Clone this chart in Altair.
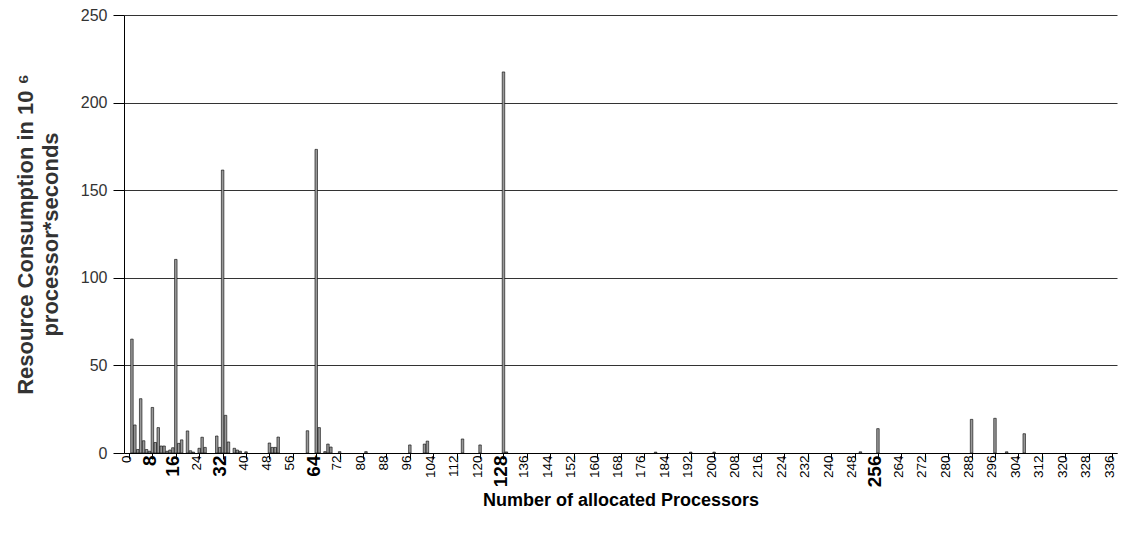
import altair as alt
import pandas as pd

processors = [1, 2, 3, 4, 5, 6, 7, 8, 9, 10, 11, 12, 13, 14, 15, 16, 17, 18, 20, 21, 22,
              24, 25, 26, 30, 31, 32, 33, 34, 36, 37, 38, 40,
              48, 49, 50, 51, 61, 64, 65, 67, 68, 69, 72, 81,
              96, 101, 102, 114, 120, 128, 129, 180, 192, 200, 250, 256,
              288, 296, 300, 306]
consumption = [65, 16, 2, 31, 7, 2, 1, 26, 6, 14.5, 4, 4, 1, 1.7, 3, 110.5, 5.5, 7.5, 12.6, 1.3, 0.5,
               2.7, 9, 3.2, 9.7, 3.2, 161.5, 21.5, 6.3, 2.7, 1.7, 1, 0.7,
               5.7, 3.2, 3.2, 9.1, 12.7, 173.3, 14.5, 0.8, 5.1, 3.4, 0.8, 0.8,
               4.6, 5.1, 6.8, 8, 4.6, 217.5, 0.6, 0.5, 0.5, 0.5, 0.7, 13.9,
               19.2, 19.8, 0.7, 11]

x_ticks = list(range(0, 337, 8))
bold_ticks = [8, 16, 32, 64, 128, 256]
y_ticks = [0, 50, 100, 150, 200, 250]

df = pd.DataFrame({"p": processors, "v": consumption})

bold_test = "indexof([" + ",".join(str(b) for b in bold_ticks) + "], datum.value) >= 0"

chart = alt.Chart(df).mark_bar(
    size=2.5, fill="#999999", stroke="#000000", strokeWidth=0.6
).encode(
    x=alt.X("p:Q",
            scale=alt.Scale(domain=[0, 336], nice=False, zero=False),
            axis=alt.Axis(values=x_ticks, labelAngle=270, grid=False,
                          labelFont="Liberation Sans", labelColor="#000",
                          labelFontSize={"expr": f"{bold_test} ? 19 : 13.5"},
                          labelFontWeight={"expr": f"{bold_test} ? 'bold' : 'normal'"},
                          labelAlign="right", labelBaseline="middle",
                          labelPadding=-4, labelOffset=-3,
                          labelOverlap=False, labelFlush=False,
                          tickSize=6, tickColor="#000", domainColor="#000",
                          title="Number of allocated Processors",
                          titleFont="Liberation Sans", titleFontSize=18,
                          titleFontWeight="bold", titleColor="#000",
                          titlePadding=5)),
    y=alt.Y("v:Q",
            scale=alt.Scale(domain=[0, 250], nice=False),
            axis=alt.Axis(values=y_ticks, grid=True, gridColor="#333",
                          gridWidth=1, tickSize=11, tickColor="#000",
                          domainColor="#000",
                          labelFont="Liberation Sans", labelFontSize=16,
                          labelColor="#333", labelPadding=6,
                          title=["Resource Consumption in 10 ⁶", "processor*seconds"],
                          titleFont="Liberation Sans", titleFontSize=22,
                          titleFontWeight="bold", titleColor="#333",
                          titleLineHeight=25, titlePadding=18)),
).properties(
    width=993, height=438,
    autosize=alt.AutoSizeParams(type="none"),
    padding={"left": 124, "top": 15, "right": 6, "bottom": 90},
).configure_view(stroke=None)

chart.save("out.html", embed_options={"renderer": "svg", "actions": False})
